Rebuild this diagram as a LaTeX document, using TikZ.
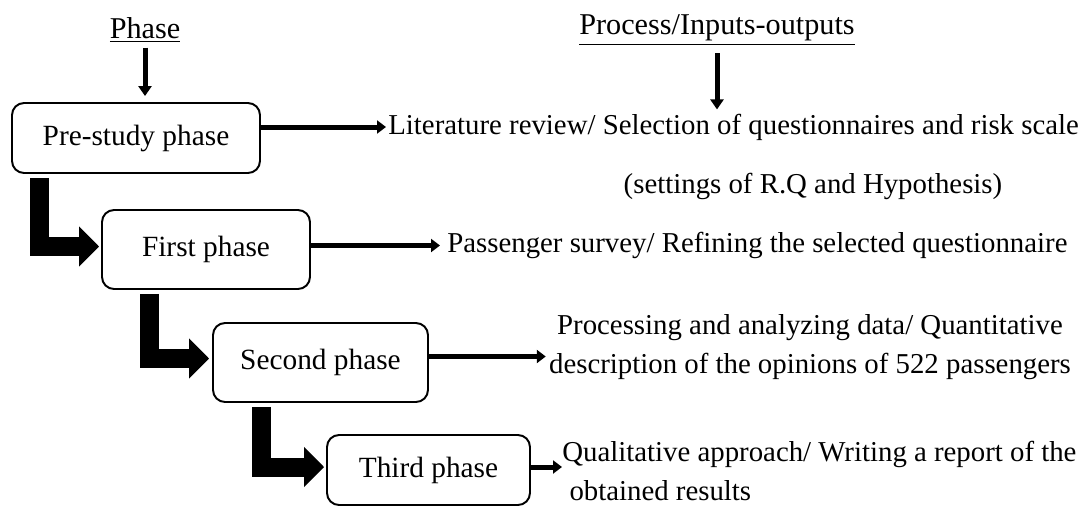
\documentclass[tikz,border=0pt]{standalone}
\usepackage{fontspec}
\setmainfont{Liberation Serif}
\usetikzlibrary{arrows.meta}
\begin{document}
\begin{tikzpicture}[x=0.02cm,y=-0.02cm,
  phasebox/.style={draw,line width=1.1pt,rounded corners=0.24cm,inner sep=0pt,font=\fontsize{16.7}{20}\selectfont},
  txt/.style={inner sep=0pt,font=\fontsize{16.4}{22.2}\selectfont},
  head/.style={inner sep=0pt,font=\fontsize{17.2}{20}\selectfont},
  rarrow/.style={line width=0.1cm,-{Triangle[length=0.18cm,width=0.26cm]}},
  darrow/.style={line width=0.1cm,-{Triangle[length=0.2cm,width=0.26cm]}},
  larrow/.style={line width=0.38cm,-{Triangle[length=0.4cm,width=0.78cm]}}]
\useasboundingbox (0,0) rectangle (1082,507);
% headings
\node[head] (ph) at (145,30) {\underline{Phase}};
\node[head] (proc) at (717,30) {\underline{Process/Inputs-outputs}};
% boxes
\node[phasebox,minimum width=4.96cm,minimum height=1.4cm] (pre) at (136,138) {Pre-study phase};
\node[phasebox,minimum width=4.16cm,minimum height=1.58cm] (first) at (206,249.5) {First phase};
\node[phasebox,minimum width=4.3cm,minimum height=1.58cm] (second) at (320.5,362.5) {Second phase};
\node[phasebox,minimum width=4.06cm,minimum height=1.4cm] (third) at (428.5,470) {Third phase};
% right texts
\node[txt,anchor=west] (lit) at (388,127) {Literature review/ Selection of questionnaires and risk scale};
\node[txt] (set) at (813,186) {(settings of R.Q and Hypothesis)};
\node[txt,anchor=west] (pas) at (447,245) {Passenger survey/ Refining the selected questionnaire};
\node[txt,align=center] (pro) at (810,347) {Processing and analyzing data/ Quantitative\\description of the opinions of 522 passengers};
\node[txt,align=left,anchor=west] (qual) at (562,471) {Qualitative approach/ Writing a report of the\\\ obtained results};
% down arrows
\draw[darrow] ([yshift=-0.1cm]ph.south) -- ([yshift=0.12cm]ph.south |- pre.north);
\draw[darrow] ([yshift=-0.16cm]proc.south) -- ([yshift=0.08cm]proc.south |- lit.north);
% right arrows
\draw[rarrow] (pre.east |- lit.west) -- ([xshift=-0.04cm]lit.west);
\draw[rarrow] ([yshift=0.08cm]first.east) -- ([xshift=-0.14cm,yshift=0.08cm]first.east -| pas.west);
\draw[rarrow] ([yshift=0.12cm]second.east) -- ([xshift=-0.06cm,yshift=0.12cm]second.east -| pro.west);
\draw[rarrow] ([yshift=0.06cm]third.east) -- ([yshift=0.06cm]third.east -| qual.west);
% L arrows
\draw[larrow] ([xshift=0.56cm,yshift=-0.08cm]pre.south west) |- ([xshift=-0.04cm,yshift=0.06cm]first.west);
\draw[larrow] ([xshift=0.96cm,yshift=-0.08cm]first.south west) |- ([xshift=-0.06cm,yshift=0.08cm]second.west);
\draw[larrow] ([xshift=0.98cm,yshift=-0.08cm]second.south west) |- ([xshift=-0.04cm,yshift=0.06cm]third.west);
\end{tikzpicture}
\end{document}
